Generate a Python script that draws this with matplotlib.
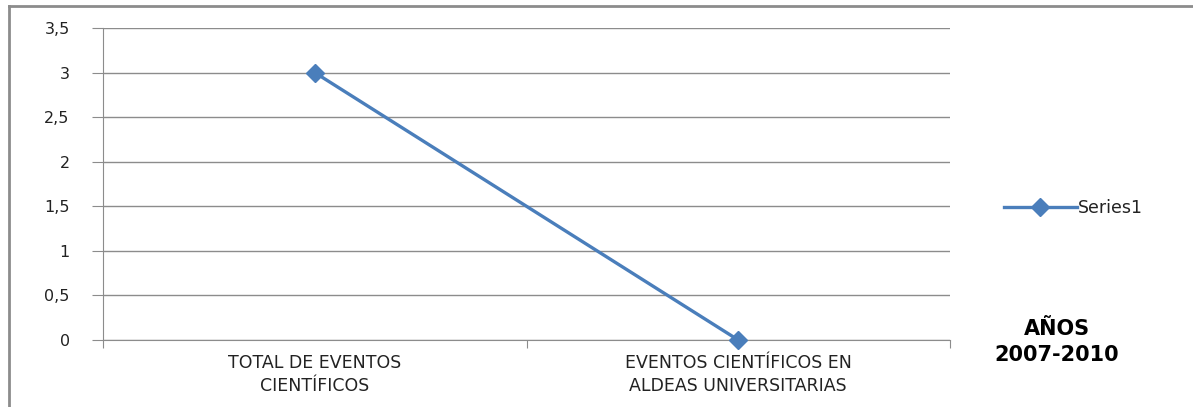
import matplotlib
matplotlib.use("Agg")
import matplotlib.pyplot as plt
from matplotlib.lines import Line2D

# data
categories = ["TOTAL DE EVENTOS\nCIENTÍFICOS", "EVENTOS CIENTÍFICOS EN\nALDEAS UNIVERSITARIAS"]
values = [3, 0]
y_ticks = [0, 0.5, 1, 1.5, 2, 2.5, 3, 3.5]
y_labels = ["0", "0,5", "1", "1,5", "2", "2,5", "3", "3,5"]

plt.rcParams['font.family'] = ['DejaVu Sans']

fig = plt.figure(figsize=(11.93, 4.07), dpi=100)
ax = fig.add_axes([103/1193, 67/407, 847/1193, 312/407])

xpos = [i + 0.5 for i in range(len(values))]
ax.plot(xpos, values, color='#4a7ebb', linewidth=2.4, marker='D',
        markersize=9, label='Series1', clip_on=False, zorder=3)

ax.set_xlim(0, len(values))
ax.set_ylim(0, 3.5)
ax.set_yticks(y_ticks)
ax.set_yticklabels(y_labels, fontsize=11.5, color='#222222')
ax.grid(axis='y', color='#8c8c8c', linewidth=1)
ax.set_axisbelow(True)

ax.set_xticks(range(len(values) + 1))
ax.set_xticklabels([])
ax.set_xticks(xpos, minor=True)
ax.set_xticklabels(categories, minor=True, fontsize=12.5, color='#222222',
                   linespacing=1.35)
ax.tick_params(axis='x', which='major', length=6, color='#8c8c8c', direction='out')
ax.tick_params(axis='x', which='minor', length=0, pad=10)
ax.tick_params(axis='y', length=8, color='#8c8c8c', pad=16)

for s in ['top', 'right']:
    ax.spines[s].set_visible(False)
ax.spines['left'].set_color('#8c8c8c')
ax.spines['bottom'].set_color('#8c8c8c')

fig.legend(loc='center left', bbox_to_anchor=(988/1193, 1 - 208/407), frameon=False,
           fontsize=12.5, handlelength=4.2, handletextpad=0.1, labelcolor='#222222')

fig.text(1057/1193, 1 - 329/407, "AÑOS", ha='center', va='center',
         fontsize=15, fontweight='bold')
fig.text(1057/1193, 1 - 355/407, "2007-2010", ha='center', va='center',
         fontsize=15, fontweight='bold')

# outer chart border (left and top)
fig.add_artist(Line2D([9/1193, 9/1193], [0, 1 - 6/407], transform=fig.transFigure,
                      color='#8c8c8c', linewidth=2))
fig.add_artist(Line2D([9/1193, 1], [1 - 6/407, 1 - 6/407], transform=fig.transFigure,
                      color='#8c8c8c', linewidth=2))

fig.savefig("out.png", dpi=100)
